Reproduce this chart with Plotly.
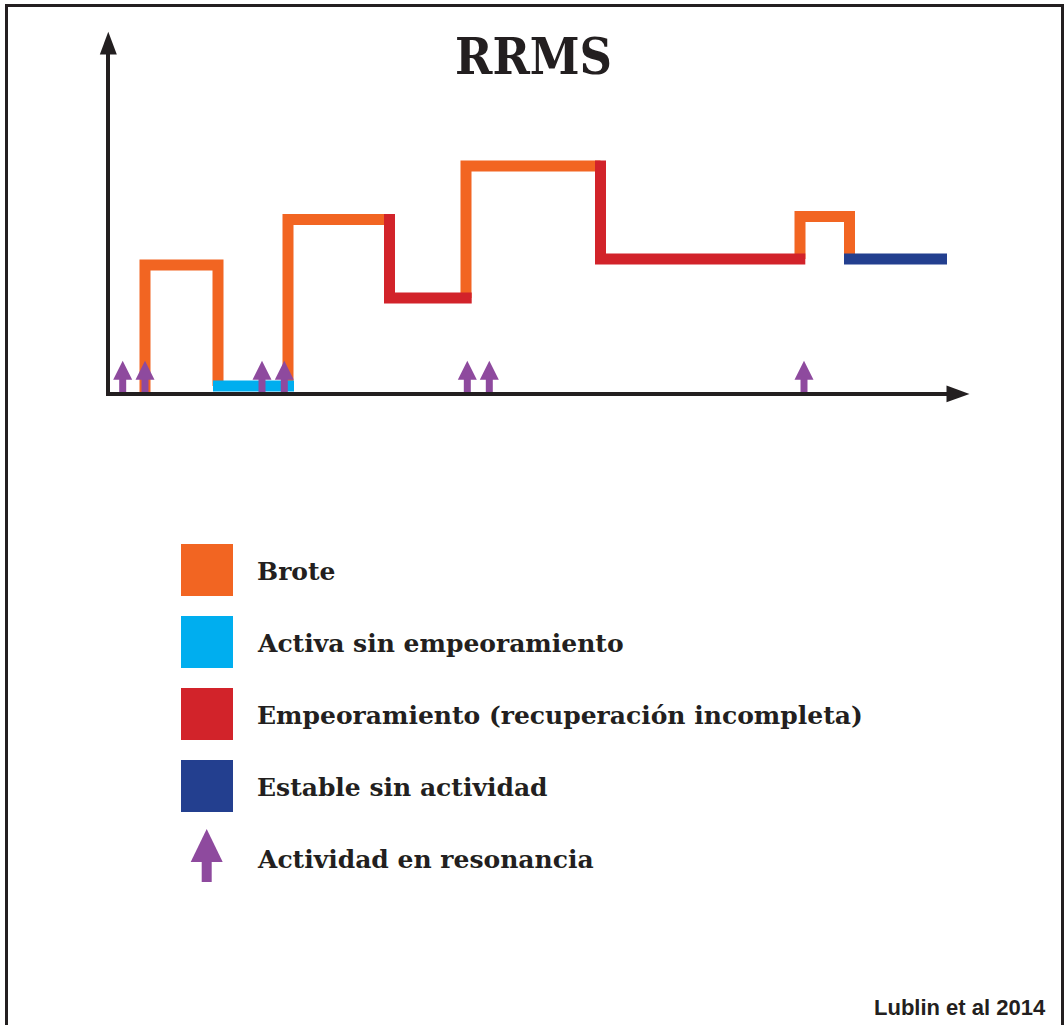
import plotly.graph_objects as go

# ---------------- data (time units on x, disability level on y) ----------------
# Brote (relapse) segments, None separates segments
brote_t = [3.5, 3.5, 10.8, 10.8, None, 17.8, 17.8, 27.95, None,
           35.6, 35.6, 49.05, None, 69.0, 69.0, 73.95, 73.95]
brote_level = [0.0, 12.7, 12.7, 0.6, None, 0.6, 17.25, 17.25, None,
               9.4, 22.6, 22.6, None, 13.3, 17.55, 17.55, 13.3]

# Empeoramiento (worsening, incomplete recovery)
empeor_t = [27.95, 27.95, 36.17, None, 49.05, 49.05, 69.53]
empeor_level = [17.8, 9.4, 9.4, None, 23.15, 13.3, 13.3]

# Activa sin empeoramiento
activa_t = [10.3, 18.4]
activa_level = [0.6, 0.6]

# Estable sin actividad
estable_t = [73.4, 83.73]
estable_level = [13.3, 13.3]

# Actividad en resonancia (MRI activity) times
mri_t = [1.27, 3.5, 15.2, 17.43, 35.73, 37.93, 69.4]
mri_head_level = 3.13
mri_shaft_top = 1.3

legend_labels = ["Brote", "Activa sin empeoramiento",
                 "Empeoramiento (recuperación incompleta)",
                 "Estable sin actividad", "Actividad en resonancia"]

ORANGE = "#F26522"
LIGHTBLUE = "#00AEEF"
RED = "#D2232A"
DARKBLUE = "#233F8F"
PURPLE = "#8E4A9E"
INK = "#231F20"

X_RANGE = [0, 83.7]
Y_RANGE = [0, 34]
L, R, T, B = 110, 117, 52, 633
W, H = 1064, 1025
PW, PH = W - L - R, H - T - B


def px_x(px):
    return (px - L) / PW


def px_y(py):
    return (H - B - py) / PH


fig = go.Figure()
LW = 11
for xs, ys, col, name in [
    (brote_t, brote_level, ORANGE, "Brote"),
    (empeor_t, empeor_level, RED, "Empeoramiento"),
    (activa_t, activa_level, LIGHTBLUE, "Activa"),
    (estable_t, estable_level, DARKBLUE, "Estable"),
]:
    fig.add_trace(go.Scatter(x=xs, y=ys, mode="lines", name=name,
                             line=dict(color=col, width=LW),
                             connectgaps=False, hoverinfo="skip"))

# MRI arrows: shafts and heads
shaft_x, shaft_y = [], []
for t in mri_t:
    shaft_x += [t, t, None]
    shaft_y += [0, mri_shaft_top, None]
fig.add_trace(go.Scatter(x=shaft_x, y=shaft_y, mode="lines",
                         line=dict(color=PURPLE, width=7), hoverinfo="skip"))
fig.add_trace(go.Scatter(x=mri_t, y=[mri_head_level] * len(mri_t), mode="markers",
                         marker=dict(symbol="arrow-up", size=19, color=PURPLE,
                                     line=dict(width=0)),
                         cliponaxis=False, hoverinfo="skip"))

shapes = []
# axis arrow heads (decoration at the ends of the axis lines)
shapes.append(dict(type="path", xref="paper", yref="paper",
                   path=f"M{px_x(99.8)},{px_y(54.5)} L{px_x(116.8)},{px_y(54.5)} "
                        f"L{px_x(108.3)},{px_y(31.7)} Z",
                   fillcolor=INK, line=dict(width=0)))
shapes.append(dict(type="path", xref="paper", yref="paper",
                   path=f"M{px_x(946.5)},{px_y(385.5)} L{px_x(946.5)},{px_y(402.3)} "
                        f"L{px_x(969.5)},{px_y(393.9)} Z",
                   fillcolor=INK, line=dict(width=0)))
# frame
shapes.append(dict(type="path", xref="paper", yref="paper",
                   path=f"M{px_x(6.5)},{px_y(1040)} L{px_x(6.5)},{px_y(5.5)} "
                        f"L{px_x(1062.5)},{px_y(5.5)} L{px_x(1062.5)},{px_y(1040)}",
                   line=dict(color=INK, width=3)))

# legend swatches
sw_cols = [ORANGE, LIGHTBLUE, RED, DARKBLUE]
row0, step = 570, 72
for i, c in enumerate(sw_cols):
    cy = row0 + i * step
    shapes.append(dict(type="rect", xref="paper", yref="paper",
                       x0=px_x(181), x1=px_x(233), y0=px_y(cy - 26), y1=px_y(cy + 26),
                       fillcolor=c, line=dict(width=0)))
# legend arrow
cy = row0 + 4 * step - 2
cx = 206.7
shapes.append(dict(type="rect", xref="paper", yref="paper",
                   x0=px_x(cx - 5), x1=px_x(cx + 5), y0=px_y(cy + 26), y1=px_y(cy + 4),
                   fillcolor=PURPLE, line=dict(width=0)))
shapes.append(dict(type="path", xref="paper", yref="paper",
                   path=f"M{px_x(cx - 16)},{px_y(cy + 6)} L{px_x(cx + 16)},{px_y(cy + 6)} "
                        f"L{px_x(cx)},{px_y(cy - 27)} Z",
                   fillcolor=PURPLE, line=dict(width=0)))

annotations = []
annotations.append(dict(text="<b>RRMS</b>", xref="paper", yref="paper",
                        x=px_x(533), y=px_y(57), xanchor="center", yanchor="middle",
                        showarrow=False,
                        font=dict(family="DejaVu Serif Condensed", size=50, color=INK)))
for i, lab in enumerate(legend_labels):
    cy = row0 + i * step + 1
    annotations.append(dict(text=f"<b>{lab}</b>", xref="paper", yref="paper",
                            x=px_x(255), y=px_y(cy), xanchor="left", yanchor="middle",
                            showarrow=False,
                            font=dict(family="DejaVu Serif", size=25, color=INK)))
annotations.append(dict(text="<b>Lublin et al 2014</b>", xref="paper", yref="paper",
                        x=px_x(1048), y=px_y(1008), xanchor="right", yanchor="middle",
                        showarrow=False,
                        font=dict(family="Liberation Sans", size=22, color=INK)))

fig.update_layout(
    width=W, height=H,
    margin=dict(l=L, r=R, t=T, b=B, pad=0),
    paper_bgcolor="white", plot_bgcolor="white",
    showlegend=False,
    shapes=shapes, annotations=annotations,
    xaxis=dict(range=X_RANGE, showgrid=False, zeroline=False, showticklabels=False,
               ticks="", showline=True, linecolor=INK, linewidth=4, fixedrange=True),
    yaxis=dict(range=Y_RANGE, showgrid=False, zeroline=False, showticklabels=False,
               ticks="", showline=True, linecolor=INK, linewidth=4, fixedrange=True),
)

fig.write_html("out.html", config={"displayModeBar": False},
               post_script="document.body.style.margin='0';document.body.style.padding='0';"
                           "document.documentElement.style.overflow='hidden';")
